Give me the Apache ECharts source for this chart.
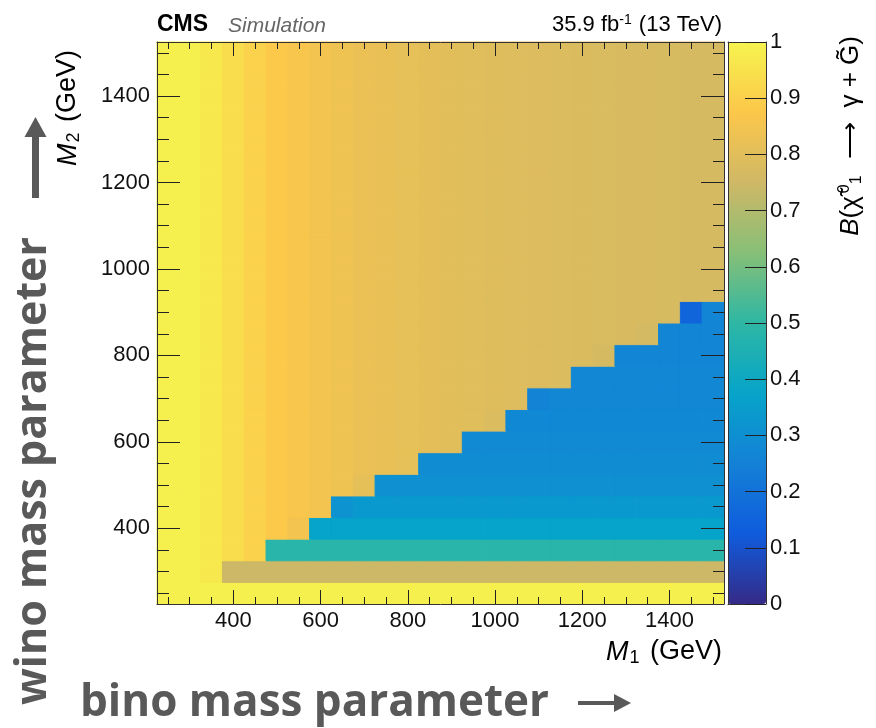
<!DOCTYPE html>
<html>
<head>
<meta charset="utf-8">
<title>Branching fraction of the bino-like neutralino to photon + gravitino</title>
<script src="https://cdn.jsdelivr.net/npm/echarts@6/dist/echarts.min.js"></script>
<style>
  html, body { margin: 0; padding: 0; background: #fff; }
  #chart { width: 876px; height: 728px; }
</style>
</head>
<body>
<div id="chart"></div>
<script>
// bin centres in GeV (bins are 50 GeV wide)
const m1Bins = [250, 300, 350, 400, 450, 500, 550, 600, 650, 700, 750, 800, 850,
                900, 950, 1000, 1050, 1100, 1150, 1200, 1250, 1300, 1350, 1400, 1450, 1500];
const m2Bins = [250, 300, 350, 400, 450, 500, 550, 600, 650, 700, 750, 800, 850,
                900, 950, 1000, 1050, 1100, 1150, 1200, 1250, 1300, 1350, 1400, 1450, 1500];

// B(chi -> gamma G) above the diagonal, one value per M1 column
const upperByM1 = [0.99, 0.99, 0.97, 0.935, 0.905, 0.88, 0.865, 0.85, 0.838, 0.828, 0.82, 0.813, 0.807,
                   0.802, 0.797, 0.793, 0.789, 0.786, 0.783, 0.78, 0.778, 0.776, 0.774, 0.772, 0.77, 0.768];

// lower band: row M2, first M1 bin of the band, value of the band
const bandM2     = [250, 300, 350, 400, 450, 500, 550, 600, 650, 700, 750, 800, 850, 900];
const bandFromM1 = [250, 400, 500, 600, 650, 750, 850, 950, 1050, 1100, 1200, 1300, 1400, 1450];
const bandValue  = [0.99, 0.745, 0.485, 0.375, 0.335, 0.305, 0.29, 0.28, 0.275, 0.272, 0.27, 0.268, 0.267, 0.266];

// single cells that stand out [M1, M2, value]
const oddCells = [
  [550, 400, 0.85],
  [650, 450, 0.315],
  [700, 500, 0.812],
  [1000, 650, 0.782],
  [1100, 700, 0.258],
  [1250, 800, 0.768],
  [1350, 850, 0.764],
  [1450, 900, 0.155]
];

const majorTicks = [400, 600, 800, 1000, 1200, 1400];
const minorTicks = [250, 300, 350, 450, 500, 550, 650, 700, 750, 850, 900, 950,
                    1050, 1100, 1150, 1250, 1300, 1350, 1450, 1500];

// ROOT kBird palette, yellow end a little washed out as in the picture
const bird = ['#352a87', '#0f5cdd', '#1481d6', '#06a4ca', '#2eb7a4',
              '#87bf77', '#cfb866', '#fcc74a', '#f6f44e'];

const HALF_BIN = 25;
const FONT = '"Liberation Sans", Arial, sans-serif';
const BIG_FONT = '"Open Sans", "Noto Sans", sans-serif';

const cells = [];
m2Bins.forEach(m2 => {
  const b = bandM2.indexOf(m2);
  m1Bins.forEach((m1, i) => {
    let v = upperByM1[i];
    if (b >= 0 && m1 >= bandFromM1[b]) v = bandValue[b];
    cells.push([m1, m2, v]);
  });
});
oddCells.forEach(c => {
  const cell = cells.find(d => d[0] === c[0] && d[1] === c[1]);
  if (cell) cell[2] = c[2];
});

const frameLine = { show: true, onZero: false, lineStyle: { color: '#333', width: 1 } };

// one helper for the ROOT-like frame axes (ticks drawn inside)
const massAxis = (dir, position, ticks, length, withLabels, withLine) => ({
  type: 'value',
  gridIndex: 0,
  position: position,
  min: 225,
  max: 1525,
  z: 5,
  axisLine: withLine ? frameLine : { show: false },
  axisTick: { show: true, inside: true, length: length, customValues: ticks,
              lineStyle: { color: '#222', width: 1 } },
  axisLabel: withLabels
    ? { show: true, customValues: majorTicks, fontSize: 22, fontFamily: FONT, color: '#111',
        margin: dir === 'x' ? 6 : 7, formatter: v => String(v) }
    : { show: false },
  splitLine: { show: false }
});

const chart = echarts.init(document.getElementById('chart'), null, { renderer: 'canvas' });

const option = {
  animation: false,
  backgroundColor: '#fff',
  grid: [
    { left: 157, top: 42, width: 567, height: 562 },
    { left: 728, top: 42, width: 38, height: 562 }
  ],
  xAxis: [
    massAxis('x', 'bottom', majorTicks, 14, true, true),
    massAxis('x', 'bottom', minorTicks, 7, false, false),
    massAxis('x', 'top', majorTicks, 14, false, true),
    massAxis('x', 'top', minorTicks, 7, false, false),
    { type: 'value', gridIndex: 1, position: 'bottom', min: 0, max: 1, z: 10,
      axisLine: frameLine, axisTick: { show: false }, axisLabel: { show: false }, splitLine: { show: false } },
    { type: 'value', gridIndex: 1, position: 'top', min: 0, max: 1, z: 10,
      axisLine: frameLine, axisTick: { show: false }, axisLabel: { show: false }, splitLine: { show: false } }
  ],
  yAxis: [
    massAxis('y', 'left', majorTicks, 23, true, true),
    massAxis('y', 'left', minorTicks, 12, false, false),
    massAxis('y', 'right', majorTicks, 23, false, true),
    massAxis('y', 'right', minorTicks, 11, false, false),
    { type: 'value', gridIndex: 1, position: 'right', min: 0, max: 1, interval: 0.1, z: 10,
      axisLine: frameLine,
      axisTick: { inside: true, length: 21, lineStyle: { color: '#222' } },
      axisLabel: { fontSize: 22, fontFamily: FONT, color: '#111', margin: 4,
                   formatter: v => (v === 0 || v === 1) ? String(v) : v.toFixed(1) },
      splitLine: { show: false } },
    { type: 'value', gridIndex: 1, position: 'left', min: 0, max: 1, z: 10,
      axisLine: frameLine, axisTick: { show: false }, axisLabel: { show: false }, splitLine: { show: false } }
  ],
  visualMap: {
    type: 'continuous',
    min: 0,
    max: 1,
    dimension: 2,
    seriesIndex: 0,
    orient: 'vertical',
    left: 728,
    top: 42,
    padding: 0,
    itemWidth: 38,
    itemHeight: 562,
    calculable: false,
    hoverLink: false,
    inRange: { color: bird }
  },
  series: [{
    type: 'custom',
    xAxisIndex: 0,
    yAxisIndex: 0,
    encode: { x: 0, y: 1 },
    silent: true,
    data: cells,
    renderItem: (params, api) => {
      const m1 = api.value(0);
      const m2 = api.value(1);
      const p0 = api.coord([m1 - HALF_BIN, m2 + HALF_BIN]);
      const p1 = api.coord([m1 + HALF_BIN, m2 - HALF_BIN]);
      const color = api.visual('color');
      return {
        type: 'rect',
        shape: { x: p0[0], y: p0[1], width: p1[0] - p0[0], height: p1[1] - p0[1] },
        style: { fill: color, stroke: color, lineWidth: 1 }
      };
    }
  }],
  graphic: [
    { type: 'text', x: 157, y: 25,
      style: { text: 'CMS', font: 'bold 23px ' + FONT, fill: '#000', verticalAlign: 'middle' } },
    { type: 'text', x: 228, y: 26,
      style: { text: 'Simulation', font: 'italic 21px ' + FONT, fill: '#666', verticalAlign: 'middle' } },
    { type: 'text', x: 722, y: 25,
      style: { text: '35.9 fb{sup|-1} (13 TeV)', font: '22px ' + FONT, fill: '#000',
               align: 'right', verticalAlign: 'middle',
               rich: { sup: { fontSize: 14, fontFamily: FONT, verticalAlign: 'top', padding: [0, 1, 9, 0] } } } },
    { type: 'text', x: 722, y: 652,
      style: { text: '{i|M}{sub|1} (GeV)', font: '27px ' + FONT, fill: '#000',
               align: 'right', verticalAlign: 'middle',
               rich: { i: { fontSize: 27, fontFamily: FONT, fontStyle: 'italic' },
                       sub: { fontSize: 18, fontFamily: FONT, verticalAlign: 'bottom', padding: [12, 3, 0, 1] } } } },
    { type: 'text', x: 68, y: 50, rotation: Math.PI / 2,
      style: { text: '{i|M}{sub|2} (GeV)', font: '27px ' + FONT, fill: '#000',
               align: 'right', verticalAlign: 'middle',
               rich: { i: { fontSize: 27, fontFamily: FONT, fontStyle: 'italic' },
                       sub: { fontSize: 18, fontFamily: FONT, verticalAlign: 'bottom', padding: [12, 3, 0, 1] } } } },
    { type: 'text', x: 851, y: 36, rotation: Math.PI / 2,
      style: { text: '{i|B}(χ̃{sup|0}{sub|1}  ⟶  γ + G̃)', font: '26px ' + FONT, fill: '#000',
               align: 'right', verticalAlign: 'middle',
               rich: { i: { fontSize: 26, fontFamily: FONT, fontStyle: 'italic' },
                       sup: { fontSize: 16, fontFamily: FONT, verticalAlign: 'top', padding: [0, 0, 12, 3] } ,
                       sub: { fontSize: 16, fontFamily: FONT, verticalAlign: 'bottom', padding: [12, 2, 0, 0] } } } },
    // slide annotations
    { type: 'text', x: 34, y: 705, rotation: Math.PI / 2,
      style: { text: 'wino mass parameter', font: 'bold 43px ' + BIG_FONT, fill: '#595959',
               align: 'left', verticalAlign: 'middle' } },
    { type: 'text', x: 80, y: 703,
      style: { text: 'bino mass parameter', font: 'bold 44px ' + BIG_FONT, fill: '#595959',
               align: 'left', verticalAlign: 'middle' } },
    { type: 'rect', shape: { x: 32, y: 136, width: 7, height: 62 }, style: { fill: '#595959' } },
    { type: 'polygon', shape: { points: [[24.5, 137], [46.5, 137], [35.5, 117]] }, style: { fill: '#595959' } },
    { type: 'rect', shape: { x: 578, y: 701, width: 38, height: 4 }, style: { fill: '#595959' } },
    { type: 'polygon', shape: { points: [[614, 694], [614, 712], [631, 703]] }, style: { fill: '#595959' } }
  ]
};

chart.setOption(option);
</script>
</body>
</html>
